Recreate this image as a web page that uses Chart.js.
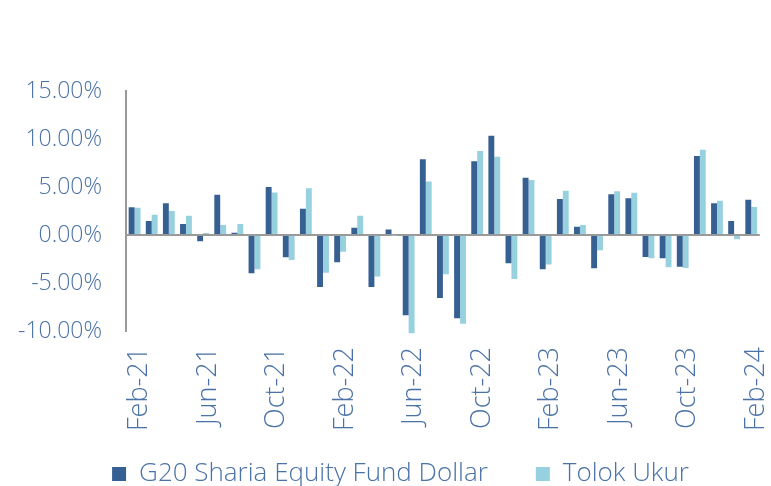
<!DOCTYPE html>
<html>
<head>
<meta charset="utf-8">
<script src="https://cdn.jsdelivr.net/npm/chart.js@4.4.1/dist/chart.umd.min.js"></script>
<style>
  html, body { margin: 0; padding: 0; background: #fff; overflow: hidden; }
  #wrap { width: 771px; height: 486px; overflow: hidden; position: relative; }
  canvas { position: absolute; left: 0; top: 0; }
</style>
</head>
<body>
<div id="wrap"><canvas id="chart" width="800" height="515"></canvas></div>
<script>
const months = ['Feb-21', 'Mar-21', 'Apr-21', 'May-21', 'Jun-21', 'Jul-21', 'Aug-21', 'Sep-21', 'Oct-21', 'Nov-21', 'Dec-21', 'Jan-22',
  'Feb-22', 'Mar-22', 'Apr-22', 'May-22', 'Jun-22', 'Jul-22', 'Aug-22', 'Sep-22', 'Oct-22', 'Nov-22', 'Dec-22', 'Jan-23',
  'Feb-23', 'Mar-23', 'Apr-23', 'May-23', 'Jun-23', 'Jul-23', 'Aug-23', 'Sep-23', 'Oct-23', 'Nov-23', 'Dec-23', 'Jan-24', 'Feb-24'];

// return bulanan (%)
const fund = [2.88, 1.46, 3.30, 1.15, -0.66, 4.20, 0.24, -3.99, 5.00, -2.33, 2.74, -5.42,
  -2.85, 0.76, -5.42, 0.56, -8.37, 7.88, -6.56, -8.68, 7.67, 10.35, -2.95, 5.97,
  -3.58, 3.75, 0.87, -3.47, 4.24, 3.82, -2.29, -2.43, -3.30, 8.23, 3.30, 1.46, 3.68];
const bench = [2.85, 2.12, 2.50, 2.01, 0.21, 1.04, 1.15, -3.58, 4.44, -2.60, 4.86, -3.92,
  -1.74, 2.01, -4.31, -0.05, -10.24, 5.56, -4.10, -9.24, 8.75, 8.16, -4.58, 5.73,
  -3.06, 4.62, 1.04, -1.60, 4.55, 4.41, -2.43, -3.37, -3.44, 8.89, 3.58, -0.45, 2.92];

const seriesNames = ['G20 Sharia Equity Fund Dollar', 'Tolok Ukur'];
const textColor = '#4a72a6';
const fam = '"Open Sans", Lato, sans-serif';
const legendFont = 26, legendPad = 48;

// legenda: geser ke posisi seperti di gambar asli (tengah x=400, teks di y=474)
const legendShift = {
  id: 'legendShift',
  afterLayout(chart) {
    const l = chart.legend;
    const dx = 400.5 - (l.left + l.right) / 2;
    const dy = (474 - legendPad - legendFont / 2) - l.top;
    l.left += dx; l.right += dx;
    l.top += dy; l.bottom += dy;
  }
};

new Chart(document.getElementById('chart'), {
  type: 'bar',
  data: {
    labels: months,
    datasets: [
      { label: seriesNames[0], data: fund, backgroundColor: '#376092', categoryPercentage: 0.69, barPercentage: 1, clip: 6 },
      { label: seriesNames[1], data: bench, backgroundColor: '#97d1df', categoryPercentage: 0.69, barPercentage: 1, clip: 6 }
    ]
  },
  options: {
    responsive: false,
    animation: false,
    layout: { padding: { top: 91, right: 26.5, left: 0, bottom: 0 } },
    plugins: {
      tooltip: { enabled: false },
      legend: {
        position: 'bottom',
        labels: { color: textColor, font: { family: fam, size: legendFont, weight: 300 }, boxWidth: 14, boxHeight: 14, padding: legendPad }
      }
    },
    scales: {
      x: {
        grid: { display: false, drawTicks: false },
        border: { display: false },
        ticks: {
          color: textColor, font: { family: fam, size: 27, weight: 300 }, autoSkip: false, minRotation: 90, maxRotation: 90, padding: 16, labelOffset: 5,
          callback: (v, i) => (i % 4 === 0 ? months[i] : '')
        },
        afterFit: (s) => { s.height = 100; }
      },
      y: {
        min: -10, max: 15,
        z: 1,
        ticks: { stepSize: 5, color: textColor, font: { family: fam, size: 23, weight: 300 }, padding: 24, callback: (v) => v.toFixed(2) + '%' },
        grid: { drawTicks: false, lineWidth: 2, color: (c) => (c.tick && c.tick.value === 0 ? '#9a9a9a' : 'rgba(0,0,0,0)') },
        border: { color: '#9a9a9a', width: 2 },
        afterFit: (s) => { s.width = 126; }
      }
    }
  },
  plugins: [legendShift]
});
</script>
</body>
</html>
